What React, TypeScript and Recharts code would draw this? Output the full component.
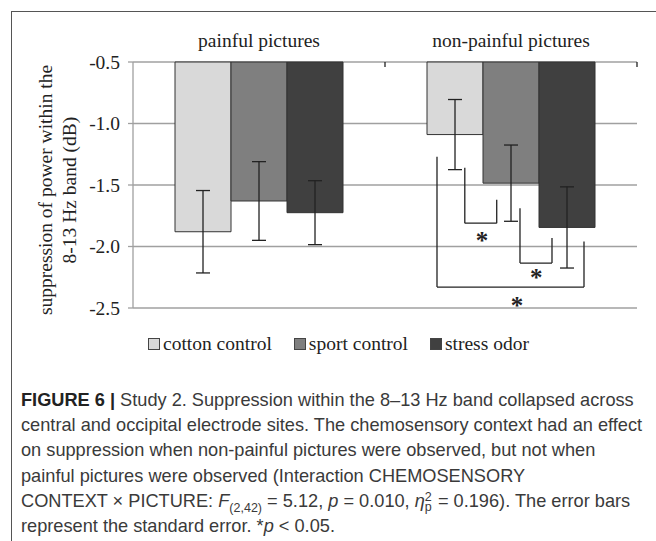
import React from 'react';
import {
  BarChart,
  Bar,
  XAxis,
  YAxis,
  CartesianGrid,
  ErrorBar,
  Legend,
  ReferenceLine,
  ReferenceDot,
  Label,
} from 'recharts';

const pictures = ['painful pictures', 'non-painful pictures'];
const picturePos = [1.5, 4.5];
const cottonControl = [-1.88, -1.09];
const cottonSE = [0.335, 0.285];
const sportControl = [-1.63, -1.485];
const sportSE = [0.32, 0.31];
const stressOdor = [-1.725, -1.845];
const stressSE = [0.26, 0.33];
const yTicks = [-0.5, -1.0, -1.5, -2.0, -2.5];

// significance brackets, x in units of a 0-6 axis (one category = 3 units)
const bracketX1 = [3.95, 4.607, 3.619];
const bracketX2 = [4.33, 4.988, 5.369];
const bracketTop1 = [-1.36, -1.69, -1.27];
const bracketTop2 = [-1.62, -1.93, -1.96];
const bracketBase = [-1.81, -2.135, -2.33];
const starX = [4.155, 4.8, 4.57];
const starY = [-1.93, -2.23, -2.46];

const data = pictures.map((picture, i) => ({
  picture,
  pos: picturePos[i],
  cotton: cottonControl[i],
  cottonSE: cottonSE[i],
  sport: sportControl[i],
  sportSE: sportSE[i],
  stress: stressOdor[i],
  stressSE: stressSE[i],
}));

const serif = '"Liberation Serif", "Times New Roman", serif';
const ink = '#222';

const series = [
  { key: 'cotton', name: 'cotton control', fill: '#d9d9d9' },
  { key: 'sport', name: 'sport control', fill: '#7f7f7f' },
  { key: 'stress', name: 'stress odor', fill: '#404040' },
];

const YLabel = (props: any) => {
  const vb = props.viewBox;
  const cy = vb.y + vb.height / 2 + 5;
  return (
    <g fontFamily={serif} fontSize={19.5} fill={ink}>
      <text x={52} y={cy} textAnchor="middle" transform={`rotate(-90 52 ${cy})`}>
        suppression of power within the
      </text>
      <text x={76} y={cy} textAnchor="middle" transform={`rotate(-90 76 ${cy})`}>
        8-13 Hz band (dB)
      </text>
    </g>
  );
};

const Star = (props: any) => {
  const vb = props.viewBox;
  return (
    <text x={vb.x} y={vb.y + 11} textAnchor="middle" fontFamily={serif} fontWeight="bold" fontSize={25} fill={ink}>
      *
    </text>
  );
};

const LegendContent = () => (
  <div style={{ display: 'flex', height: 24, alignItems: 'center', fontFamily: serif, fontSize: 19.5, color: ink }}>
    {series.map((s, i) => (
      <div key={s.key} style={{ display: 'flex', alignItems: 'center', marginRight: i < 2 ? 22 : 0 }}>
        <span style={{ width: 10, height: 10, background: s.fill, border: '1px solid #444', marginRight: 3 }} />
        <span>{s.name}</span>
      </div>
    ))}
  </div>
);

const captionLines: React.ReactNode[] = [
  <>
    <b style={{ color: '#222' }}>FIGURE 6 |</b> Study 2. Suppression within the 8–13 Hz band collapsed across
  </>,
  'central and occipital electrode sites. The chemosensory context had an effect',
  'on suppression when non-painful pictures were observed, but not when',
  'painful pictures were observed (Interaction CHEMOSENSORY',
  <>
    CONTEXT × PICTURE: <i>F</i>
    <sub style={{ fontSize: 12.5, lineHeight: 0 }}>(2,42)</sub> = 5.12, <i>p</i> = 0.010, <i>η</i>
    <span style={{ display: 'inline-block', position: 'relative', width: 8, height: 10 }}>
      <span style={{ position: 'absolute', left: 0, top: -6, fontSize: 12.5, lineHeight: '12px' }}>2</span>
      <span style={{ position: 'absolute', left: 0, top: 4, fontSize: 12.5, lineHeight: '12px' }}>p</span>
    </span>{' '}
    = 0.196). The error bars
  </>,
  <>
    represent the standard error. *<i>p</i> &lt; 0.05.
  </>,
];

export default function App() {
  const seg = (x1: number, y1: number, x2: number, y2: number, k: string) => (
    <ReferenceLine
      key={k}
      xAxisId="pos"
      segment={[{ x: x1, y: y1 }, { x: x2, y: y2 }]}
      stroke={ink}
      strokeWidth={1.3}
      ifOverflow="visible"
    />
  );
  return (
    <div style={{ position: 'absolute', left: 0, top: 0, width: 656, height: 541, background: '#fff', overflow: 'hidden' }}>
      <div style={{ position: 'absolute', left: 11, top: 11, width: 660, height: 540, borderLeft: '1.5px solid #555', borderTop: '1.5px solid #555' }} />
      <div style={{ position: 'absolute', left: 0, top: 0 }}>
        <BarChart
          width={656}
          height={380}
          data={data}
          margin={{ top: 32, right: 19, bottom: 48, left: 0 }}
          barCategoryGap="16.67%"
          barGap={0}
        >
          <CartesianGrid vertical={false} stroke="#a0a0a0" strokeWidth={1.3} />
          <XAxis
            xAxisId="cat"
            dataKey="picture"
            orientation="top"
            height={30}
            axisLine={false}
            tickLine={false}
            tickMargin={9}
            tick={{ fontFamily: serif, fontSize: 19.5, fill: ink }}
          />
          <XAxis
            xAxisId="pos"
            dataKey="pos"
            type="number"
            scale="linear"
            domain={[0, 6]}
            allowDataOverflow
            height={0}
            axisLine={false}
            tickLine={false}
            tick={false}
          />
          <YAxis
            width={133}
            domain={[-2.5, -0.5]}
            ticks={yTicks}
            interval={0}
            tickFormatter={(v: number) => v.toFixed(1)}
            axisLine={{ stroke: '#a0a0a0', strokeWidth: 1.3 }}
            tickLine={{ stroke: '#a0a0a0', strokeWidth: 1.3 }}
            tickSize={5}
            tickMargin={8}
            tick={{ fontFamily: serif, fontSize: 19.5, fill: ink }}
          >
            <Label content={YLabel} />
          </YAxis>
          {series.map((s) => (
            <Bar
              key={s.key}
              xAxisId="cat"
              dataKey={s.key}
              name={s.name}
              fill={s.fill}
              stroke="#333"
              strokeWidth={1}
              isAnimationActive={false}
            >
              <ErrorBar dataKey={`${s.key}SE`} width={7} stroke={ink} strokeWidth={1.3} direction="y" />
            </Bar>
          ))}
          {seg(3, -0.5, 3, -0.54, 't1')}
          {seg(6, -0.5, 6, -0.54, 't2')}
          {bracketX1.map((x1, i) => [
            seg(x1, bracketTop1[i], x1, bracketBase[i], `a${i}`),
            seg(x1, bracketBase[i], bracketX2[i], bracketBase[i], `b${i}`),
            seg(bracketX2[i], bracketTop2[i], bracketX2[i], bracketBase[i], `c${i}`),
          ])}
          {starX.map((x, i) => (
            <ReferenceDot key={`s${i}`} xAxisId="pos" x={x} y={starY[i]} r={0} stroke="none" fill="none" ifOverflow="visible" label={<Star />} />
          ))}
          <Legend content={<LegendContent />} wrapperStyle={{ left: 148, top: 332, width: 'auto' }} />
        </BarChart>
      </div>
      <div
        style={{
          position: 'absolute',
          left: 21,
          top: 388,
          width: 640,
          fontFamily: '"Liberation Sans", Arial, sans-serif',
          fontSize: 18.2,
          color: '#3a3a3a',
          whiteSpace: 'nowrap',
        }}
      >
        {captionLines.map((line, i) => (
          <div key={i} style={{ height: 25.2, lineHeight: '25.2px' }}>
            {line}
          </div>
        ))}
      </div>
    </div>
  );
}
